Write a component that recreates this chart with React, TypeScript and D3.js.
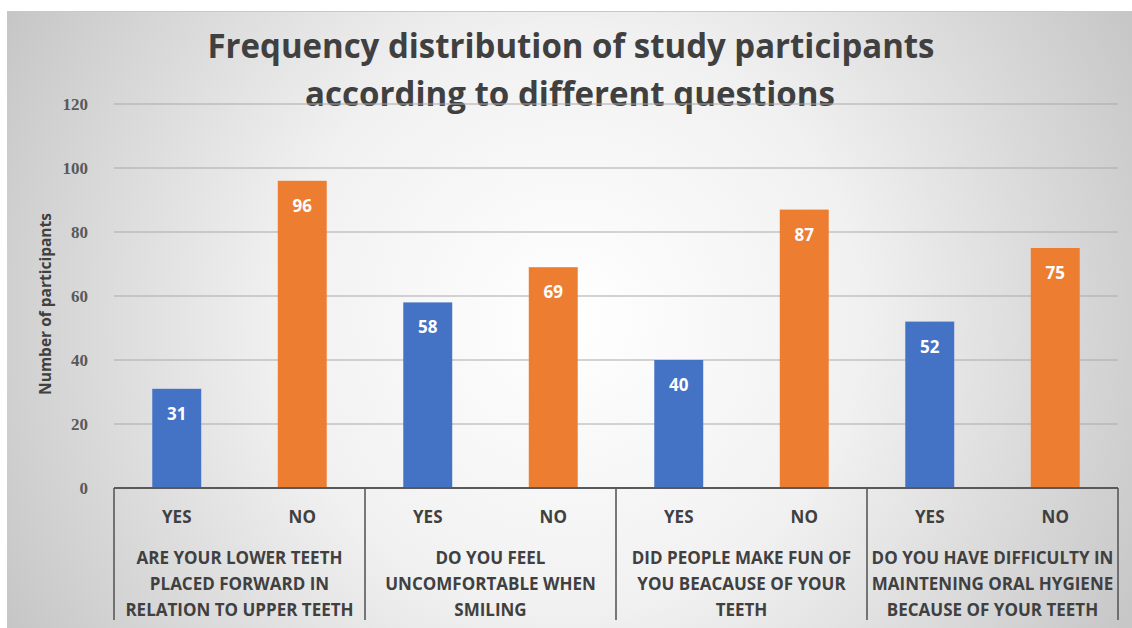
import * as d3 from "d3";

const questions = [
  ["ARE YOUR LOWER TEETH", "PLACED FORWARD IN", "RELATION TO UPPER TEETH"],
  ["DO YOU FEEL", "UNCOMFORTABLE WHEN", "SMILING"],
  ["DID PEOPLE MAKE FUN OF", "YOU BEACAUSE OF YOUR", "TEETH"],
  ["DO YOU HAVE DIFFICULTY IN", "MAINTENING ORAL HYGIENE", "BECAUSE OF YOUR TEETH"],
];
const answers = ["YES", "NO"];
const yesValues = [31, 58, 40, 52];
const noValues = [96, 69, 87, 75];
const yTicks = [0, 20, 40, 60, 80, 100, 120];

const W = 1132;
const H = 628;
const plot = { left: 114, right: 1118, top: 104, bottom: 488 };
const colors: Record<string, string> = { YES: "#4472C4", NO: "#ED7D31" };
const font = "'Open Sans', 'Liberation Sans', sans-serif";

export default function App() {
  const groupIds = questions.map((_q, i) => String(i));
  const x0 = d3.scaleBand<string>().domain(groupIds).range([plot.left, plot.right]).padding(0);
  const x1 = d3
    .scaleBand<string>()
    .domain(answers)
    .range([0, x0.bandwidth()])
    .paddingInner(0.61)
    .paddingOuter(0.305);
  const y = d3.scaleLinear().domain([0, 120]).range([plot.bottom, plot.top]);

  const bars = groupIds.flatMap((g, i) => [
    { g, key: "YES", value: yesValues[i] },
    { g, key: "NO", value: noValues[i] },
  ]);

  const axisBottom = 620;

  return (
    <svg
      width={W}
      height={H}
      style={{ position: "absolute", left: 0, top: 0 }}
      fontFamily={font}
    >
      <defs>
        <radialGradient id="bg" gradientUnits="userSpaceOnUse" cx={570} cy={320} r={640}>
          <stop offset="0" stopColor="#ffffff" />
          <stop offset="0.45" stopColor="#f1f1f1" />
          <stop offset="0.85" stopColor="#d2d2d2" />
          <stop offset="1" stopColor="#c6c6c6" />
        </radialGradient>
      </defs>
      <rect x={0} y={0} width={W} height={H} fill="#ffffff" />
      <rect x={7} y={11} width={W - 7} height={H - 11} fill="url(#bg)" />
      <line x1={7} x2={W} y1={11.5} y2={11.5} stroke="#c8c8c8" />

      {/* title */}
      <text x={571} y={58} textAnchor="middle" fontSize={34} fontWeight={700} fill="#404040" textLength={727} lengthAdjust="spacingAndGlyphs">
        Frequency distribution of study participants
      </text>
      <text x={570} y={106} textAnchor="middle" fontSize={34} fontWeight={700} fill="#404040" textLength={530} lengthAdjust="spacingAndGlyphs">
        according to different questions
      </text>

      {/* gridlines */}
      {yTicks.filter((t) => t > 0).map((t) => (
        <line key={t} x1={plot.left} x2={plot.right} y1={y(t)} y2={y(t)} stroke="#a9a9a9" strokeWidth={1.2} />
      ))}

      {/* y tick labels */}
      {yTicks.map((t) => (
        <text
          key={t}
          x={88}
          y={y(t)}
          dy="0.35em"
          textAnchor="end"
          fontSize={17}
          fontWeight={700}
          fill="#595959"
          fontFamily="'Liberation Serif', serif"
        >
          {t}
        </text>
      ))}

      {/* y axis title */}
      <text
        transform={`translate(51,${(plot.top + plot.bottom) / 2 + 8}) rotate(-90)`}
        textAnchor="middle"
        fontSize={15.5}
        fontWeight={700}
        fill="#404040"
      >
        Number of participants
      </text>

      {/* bars */}
      {bars.map((b) => {
        const bx = (x0(b.g) ?? 0) + (x1(b.key) ?? 0);
        return (
          <g key={b.g + b.key}>
            <rect x={bx} y={y(b.value)} width={x1.bandwidth()} height={y(0) - y(b.value)} fill={colors[b.key]} />
            <text
              x={bx + x1.bandwidth() / 2}
              y={y(b.value) + 31}
              textAnchor="middle"
              fontSize={17}
              fontWeight={700}
              fill="#ffffff"
            >
              {b.value}
            </text>
          </g>
        );
      })}

      {/* category axis */}
      <line x1={plot.left} x2={plot.right} y1={plot.bottom} y2={plot.bottom} stroke="#595959" strokeWidth={2} />
      {[...groupIds.map((g) => x0(g) ?? 0), plot.right].map((xv, i) => (
        <line key={i} x1={xv} x2={xv} y1={plot.bottom} y2={axisBottom} stroke="#595959" strokeWidth={1.6} />
      ))}
      {groupIds.map((g, i) => (
        <g key={g}>
          {answers.map((a) => (
            <text
              key={a}
              x={(x0(g) ?? 0) + (x1(a) ?? 0) + x1.bandwidth() / 2}
              y={523}
              textAnchor="middle"
              fontSize={17}
              fontWeight={700}
              fill="#404040"
            >
              {a}
            </text>
          ))}
          {questions[i].map((line, j) => (
            <text
              key={j}
              x={(x0(g) ?? 0) + x0.bandwidth() / 2}
              y={564 + j * 25.8}
              textAnchor="middle"
              fontSize={17}
              fontWeight={700}
              fill="#404040"
            >
              {line}
            </text>
          ))}
        </g>
      ))}
    </svg>
  );
}
